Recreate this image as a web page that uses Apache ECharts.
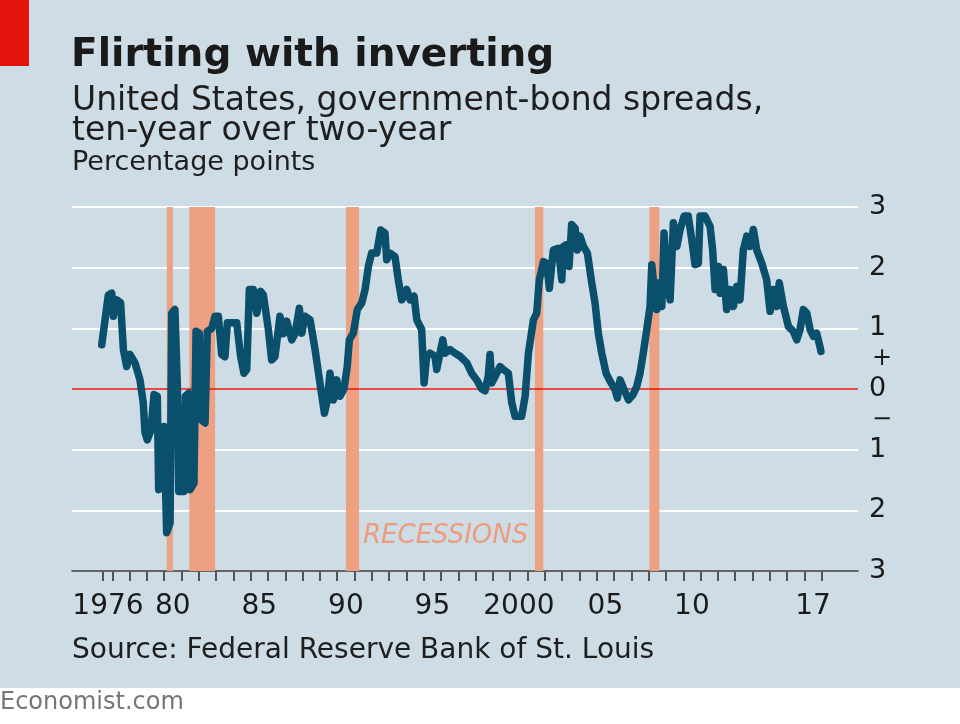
<!DOCTYPE html>
<html style="height: 100%">
<head>
  <meta charset="utf-8">
</head>
<body style="height: 100%; margin: 0; width: 100%;">
<div id="container" style="width: 960px; height: 724px;"></div>
<script src="https://cdn.jsdelivr.net/npm/echarts@6/dist/echarts.min.js"></script>
<script type="text/javascript">
// 10-year minus 2-year spread (decimal year, points)
var years = [
  1976.39, 1976.58, 1976.77, 1976.97, 1977.06, 1977.25, 1977.48, 1977.64, 1977.83, 1978.02,
  1978.31, 1978.60, 1978.79, 1978.89, 1979.02, 1979.24, 1979.41, 1979.60, 1979.68, 1979.85,
  1979.99, 1980.14, 1980.34, 1980.43, 1980.62, 1980.76, 1980.84, 1981.14, 1981.22, 1981.41,
  1981.49, 1981.72, 1981.84, 1982.03, 1982.11, 1982.36, 1982.49, 1982.75, 1982.94, 1983.13,
  1983.32, 1983.51, 1983.65, 1984.19, 1984.42, 1984.61, 1984.77, 1984.92, 1985.15, 1985.35,
  1985.58, 1985.73, 1986.02, 1986.21, 1986.40, 1986.69, 1986.88, 1987.08, 1987.37, 1987.56,
  1987.81, 1987.95, 1988.14, 1988.43, 1988.72, 1989.00, 1989.26, 1989.43, 1989.58, 1989.78,
  1989.97, 1990.16, 1990.39, 1990.58, 1990.70, 1990.93, 1991.16, 1991.42, 1991.61, 1991.80,
  1991.99, 1992.28, 1992.51, 1992.76, 1992.86, 1993.05, 1993.34, 1993.53, 1993.73, 1994.02,
  1994.21, 1994.44, 1994.60, 1994.88, 1995.02, 1995.17, 1995.36, 1995.65, 1995.75, 1995.94,
  1996.10, 1996.23, 1996.52, 1996.81, 1997.10, 1997.49, 1997.77, 1998.06, 1998.35, 1998.54,
  1998.73, 1998.83, 1998.93, 1999.22, 1999.41, 1999.60, 1999.89, 2000.09, 2000.28, 2000.66,
  2000.86, 2001.05, 2001.34, 2001.53, 2001.68, 2001.92, 2002.11, 2002.26, 2002.49, 2002.78,
  2002.98, 2003.07, 2003.26, 2003.40, 2003.55, 2003.75, 2003.88, 2004.03, 2004.23, 2004.46,
  2004.71, 2004.90, 2005.09, 2005.29, 2005.54, 2005.77, 2006.06, 2006.19, 2006.35, 2006.58,
  2006.83, 2007.08, 2007.31, 2007.50, 2007.69, 2007.89, 2008.08, 2008.18, 2008.31, 2008.47,
  2008.62, 2008.76, 2008.89, 2009.05, 2009.24, 2009.43, 2009.63, 2009.82, 2010.05, 2010.29,
  2010.49, 2010.68, 2010.87, 2010.97, 2011.26, 2011.55, 2011.70, 2011.84, 2012.03, 2012.13,
  2012.32, 2012.51, 2012.71, 2012.90, 2013.09, 2013.28, 2013.47, 2013.67, 2013.86, 2014.05,
  2014.25, 2014.54, 2014.82, 2015.02, 2015.21, 2015.40, 2015.55, 2015.79, 2016.08, 2016.36,
  2016.56, 2016.75, 2016.94, 2017.14, 2017.33, 2017.52, 2017.71, 2017.90, 2017.96
];
var spread = [
  0.73, 1.14, 1.55, 1.58, 1.20, 1.47, 1.42, 0.65, 0.37, 0.57,
  0.43, 0.15, -0.23, -0.72, -0.84, -0.67, -0.09, -0.12, -1.66, -1.60,
  -0.62, -2.37, -2.21, 1.25, 1.31, 0.04, -1.69, -1.69, -0.12, -0.07,
  -1.66, -1.55, 0.95, 0.92, -0.50, -0.56, 0.95, 1.00, 1.20, 1.20,
  0.57, 0.53, 1.09, 1.09, 0.53, 0.26, 0.32, 1.64, 1.64, 1.25,
  1.61, 1.55, 0.98, 0.48, 0.53, 1.20, 0.91, 1.12, 0.81, 0.91,
  1.33, 0.92, 1.20, 1.14, 0.65, 0.10, -0.40, -0.18, 0.26, -0.18,
  0.15, -0.12, 0.00, 0.37, 0.81, 0.92, 1.31, 1.42, 1.64, 2.02,
  2.24, 2.24, 2.62, 2.57, 2.13, 2.24, 2.18, 1.80, 1.47, 1.64,
  1.47, 1.53, 1.14, 0.98, 0.10, 0.54, 0.59, 0.54, 0.32, 0.59,
  0.81, 0.59, 0.65, 0.59, 0.54, 0.43, 0.26, 0.15, 0.00, -0.03,
  0.21, 0.57, 0.10, 0.26, 0.37, 0.32, 0.26, -0.23, -0.45, -0.45,
  -0.12, 0.59, 1.14, 1.25, 1.80, 2.10, 2.07, 1.66, 2.29, 2.32,
  1.80, 2.35, 2.38, 2.02, 2.71, 2.65, 2.29, 2.52, 2.35, 2.24,
  1.75, 1.42, 0.92, 0.59, 0.26, 0.13, -0.01, -0.15, 0.15, -0.01,
  -0.18, -0.10, 0.04, 0.26, 0.59, 0.98, 1.36, 2.05, 1.69, 1.31,
  1.75, 1.36, 2.57, 1.80, 1.47, 2.74, 2.35, 2.63, 2.85, 2.85,
  2.46, 2.05, 2.07, 2.85, 2.85, 2.68, 2.29, 1.64, 2.02, 1.58,
  1.97, 1.31, 1.64, 1.36, 1.69, 1.47, 2.29, 2.52, 2.35, 2.63,
  2.29, 2.07, 1.80, 1.28, 1.64, 1.36, 1.75, 1.36, 1.03, 0.95,
  0.81, 0.98, 1.31, 1.25, 0.98, 0.87, 0.92, 0.70, 0.62
];
// recession shading as drawn, start/end in decimal years
var recessionStart = [1980.15, 1981.45, 1990.51, 2001.43, 2008.04];
var recessionEnd   = [1980.50, 1982.94, 1991.26, 2001.91, 2008.62];
// x-axis labels sit mid-year, ticks at each year start
var tickLabelPos  = [1976.75, 1980.5, 1985.5, 1990.5, 1995.5, 2000.5, 2005.5, 2010.5, 2017.5];
var tickLabelText = ['1976', '80', '85', '90', '95', '2000', '05', '10', '17'];
var yearTicks = [1976.42];
for (var yr = 1977; yr <= 2018; yr++) yearTicks.push(yr);

var FONT = '"DejaVu Sans", sans-serif';
var dom = document.getElementById('container');
var myChart = echarts.init(dom, null, {renderer: 'canvas'});

var seriesData = years.map(function (y, i) { return [y, spread[i]]; });
var bands = recessionStart.map(function (s, i) {
  return [{xAxis: s}, {xAxis: recessionEnd[i]}];
});

var option = {
  backgroundColor: '#cddce5',
  animation: false,
  grid: {left: 72, right: 102, top: 207, bottom: 153},
  xAxis: {
    type: 'value',
    min: 1974.67,
    max: 2020.1,
    axisLine: {show: true, onZero: false, lineStyle: {color: '#333', width: 1.5}},
    axisTick: {show: true, customValues: yearTicks, length: 10, lineStyle: {color: '#555', width: 2}},
    axisLabel: {
      customValues: tickLabelPos,
      margin: 22,
      color: '#1a1a1a',
      fontFamily: FONT,
      fontSize: 28,
      formatter: function (v) {
        var i = tickLabelPos.indexOf(v);
        return i >= 0 ? tickLabelText[i] : '';
      }
    },
    splitLine: {show: false}
  },
  yAxis: [
    {
      type: 'value',
      position: 'right',
      min: -3, max: 3, interval: 1,
      axisLine: {show: false},
      axisTick: {show: false},
      axisLabel: {
        margin: 11, color: '#1a1a1a', fontFamily: FONT, fontSize: 27,
        formatter: function (v) { return String(Math.abs(v)); }
      },
      splitLine: {show: true, lineStyle: {color: '#ffffff', width: 2}}
    },
    {
      type: 'value',
      position: 'right',
      min: -3, max: 3, interval: 0.5,
      axisLine: {show: false},
      axisTick: {show: false},
      splitLine: {show: false},
      axisLabel: {
        margin: 14, color: '#1a1a1a', fontFamily: FONT, fontSize: 24,
        formatter: function (v) {
          if (v === 0.5) return '+';
          if (v === -0.5) return '\u2212';
          return '';
        }
      }
    }
  ],
  graphic: [
    {type: 'rect', left: 0, top: 0, shape: {width: 29, height: 66}, style: {fill: '#e3120b'}},
    {type: 'rect', left: 0, top: 688, shape: {width: 960, height: 36}, style: {fill: '#ffffff'}},
    {type: 'text', x: 71, y: 56, style: {text: 'Flirting with inverting', font: 'bold 39px ' + FONT, fill: '#1a1a1a', verticalAlign: 'middle'}},
    {type: 'text', x: 72, y: 101, style: {text: 'United States, government-bond spreads,', font: '33px ' + FONT, fill: '#1e1e1e', verticalAlign: 'middle'}},
    {type: 'text', x: 72, y: 131, style: {text: 'ten-year over two-year', font: '33px ' + FONT, fill: '#1e1e1e', verticalAlign: 'middle'}},
    {type: 'text', x: 72, y: 163, style: {text: 'Percentage points', font: '27px ' + FONT, fill: '#1e1e1e', verticalAlign: 'middle'}},
    {type: 'text', x: 363, y: 536, z: 10, style: {text: 'RECESSIONS', font: 'italic 26px ' + FONT, fill: '#ec9c7f', verticalAlign: 'middle'}},
    {type: 'text', x: 72, y: 651, style: {text: 'Source: Federal Reserve Bank of St. Louis', font: '28px ' + FONT, fill: '#1e1e1e', verticalAlign: 'middle'}},
    {type: 'text', x: 0, y: 703, style: {text: 'Economist.com', font: '24px ' + FONT, fill: '#767676', verticalAlign: 'middle'}}
  ],
  series: [
    {
      // background layer: recession bands and the zero line
      type: 'line',
      data: seriesData,
      z: 1,
      silent: true,
      showSymbol: false,
      lineStyle: {opacity: 0},
      markArea: {
        silent: true,
        itemStyle: {color: '#eea083'},
        data: bands
      },
      markLine: {
        silent: true,
        symbol: 'none',
        label: {show: false},
        lineStyle: {color: '#e3120b', width: 1.5, type: 'solid'},
        data: [{yAxis: 0}]
      }
    },
    {
      name: 'Spread',
      type: 'line',
      data: seriesData,
      z: 5,
      showSymbol: false,
      lineStyle: {color: '#0a4f6c', width: 7.5, join: 'round', cap: 'round'}
    }
  ]
};

myChart.setOption(option, true);
</script>
</body>
</html>
